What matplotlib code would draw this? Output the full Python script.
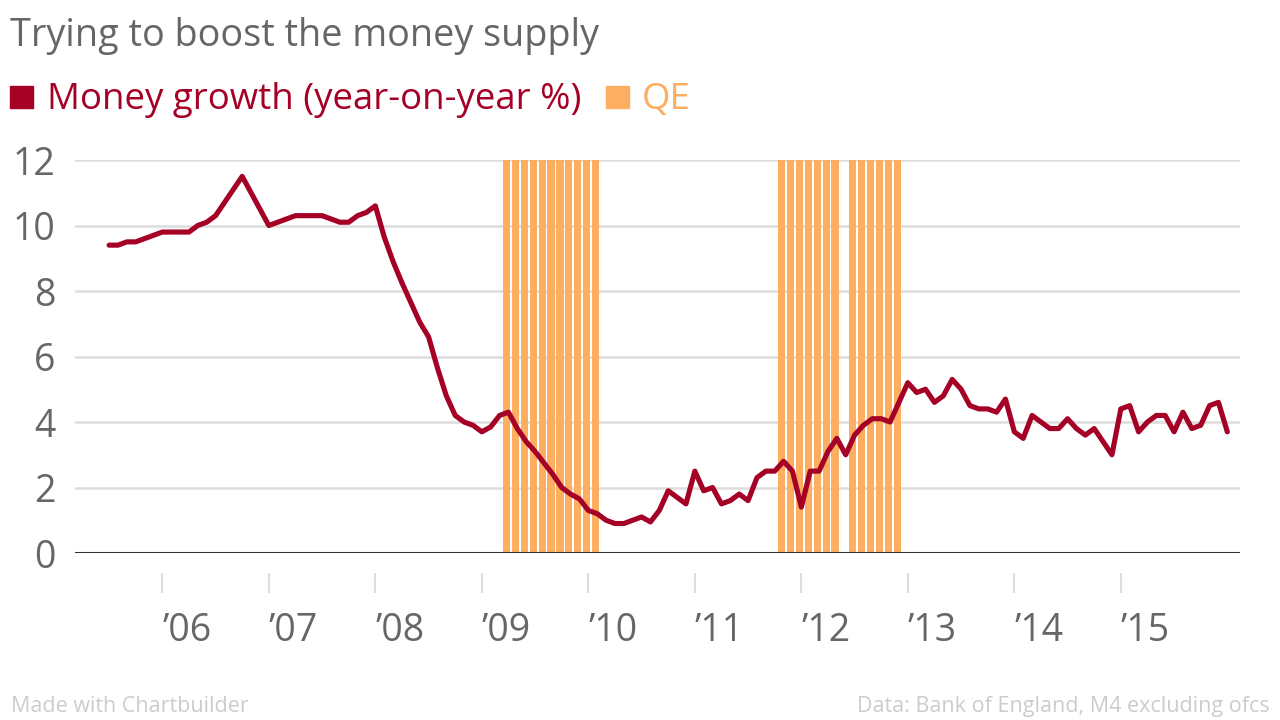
import matplotlib
matplotlib.use("Agg")
import matplotlib.pyplot as plt
from matplotlib.patches import Rectangle
import numpy as np

plt.rcParams['font.family'] = ['Open Sans', 'DejaVu Sans']

# monthly money growth, Jul 2005 .. Jan 2016 (year-on-year %)
start_year, start_month = 2005, 7
money_growth = [
    9.4, 9.4, 9.5, 9.5, 9.6, 9.7, 9.8, 9.8, 9.8, 9.8,
    10.0, 10.1, 10.3, 10.7, 11.1, 11.5, 11.0, 10.5, 10.0, 10.1,
    10.2, 10.3, 10.3, 10.3, 10.3, 10.2, 10.1, 10.1, 10.3, 10.4,
    10.6, 9.65, 8.9, 8.25, 7.65, 7.05, 6.6, 5.65, 4.8, 4.2,
    4.0, 3.9, 3.7, 3.85, 4.2, 4.3, 3.8, 3.4, 3.1, 2.75,
    2.4, 2.0, 1.8, 1.65, 1.3, 1.2, 1.0, 0.9, 0.9, 1.0,
    1.1, 0.95, 1.3, 1.9, 1.7, 1.5, 2.5, 1.9, 2.0, 1.5,
    1.6, 1.8, 1.6, 2.3, 2.5, 2.5, 2.8, 2.5, 1.4, 2.5,
    2.5, 3.1, 3.5, 3.0, 3.6, 3.9, 4.1, 4.1, 4.0, 4.6,
    5.2, 4.9, 5.0, 4.6, 4.8, 5.3, 5.0, 4.5, 4.4, 4.4,
    4.3, 4.7, 3.7, 3.5, 4.2, 4.0, 3.8, 3.8, 4.1, 3.8,
    3.6, 3.8, 3.4, 3.0, 4.4, 4.5, 3.7, 4.0, 4.2, 4.2,
    3.7, 4.3, 3.8, 3.9, 4.5, 4.6, 3.7,
]

# months with QE purchases (year, month)
qe_months = [(2009, m) for m in range(3, 13)] + [(2010, 1)] \
    + [(2011, 10), (2011, 11), (2011, 12), (2012, 1), (2012, 2), (2012, 3), (2012, 4)] \
    + [(2012, m) for m in range(6, 12)]
qe_level = 12

years = list(range(2006, 2016))
year_labels = ["\u2019%02d" % (y % 100) for y in years]
y_ticks = [0, 2, 4, 6, 8, 10, 12]

red = '#a50026'
orange = '#fdae61'
grey = '#666666'

# month positions as fractional years
months_idx = np.arange(len(money_growth)) + (start_month - 1)
x_line = start_year + months_idx / 12.0
x_qe = np.array([y + (m - 1) / 12.0 for y, m in qe_months])

fig = plt.figure(figsize=(12.8, 7.2), dpi=100)
ax = fig.add_axes([75 / 1280, 167 / 720, 1165 / 1280, 393 / 720])

ax.bar(x_qe + 0.39 / 12, [qe_level] * len(x_qe), width=0.82 / 12, align='edge',
       color=orange, zorder=2, linewidth=0)
ax.plot(x_line, money_growth, color=red, lw=3.7, zorder=4,
        solid_joinstyle='round', solid_capstyle='round')
ax.axhline(0, color='#333333', lw=2.2, zorder=3)

ax.set_xlim(2005.180, 2016.119)
ax.set_ylim(0, 12)

for s in ax.spines.values():
    s.set_visible(False)
ax.spines['bottom'].set_position(('outward', 14.4))

ax.set_yticks(y_ticks)
ax.set_yticklabels([str(v) for v in y_ticks])
ax.yaxis.grid(True, color='#dddddd', lw=1.8)
ax.set_axisbelow(True)
ax.tick_params(axis='y', length=0, pad=14, labelsize=27, labelcolor=grey)

ax.set_xticks(years)
ax.set_xticklabels(year_labels, ha='left')
ax.tick_params(axis='x', direction='out', length=14.4, width=1.5, color='#dddddd',
               pad=14, labelsize=27, labelcolor=grey)

fig.text(10 / 1280, 1 - 46 / 720, "Trying to boost the money supply", fontsize=27.2,
         color=grey, va='baseline', ha='left')

# legend
fig.patches.append(Rectangle((10 / 1280, 1 - 108 / 720), 23 / 1280, 22 / 720,
                             transform=fig.transFigure, color=red))
fig.text(47 / 1280, 1 - 109 / 720, "Money growth (year-on-year %)", fontsize=26.4,
         color=red, va='baseline', ha='left')
fig.patches.append(Rectangle((606 / 1280, 1 - 108 / 720), 23 / 1280, 22 / 720,
                             transform=fig.transFigure, color=orange))
fig.text(642 / 1280, 1 - 109 / 720, "QE", fontsize=26.4,
         color=orange, va='baseline', ha='left')

fig.text(11 / 1280, 1 - 712 / 720, "Made with Chartbuilder", fontsize=15.5,
         color='#cccccc', va='baseline', ha='left')
fig.text(1270 / 1280, 1 - 712 / 720, "Data: Bank of England, M4 excluding ofcs", fontsize=15.5,
         color='#cccccc', va='baseline', ha='right')

fig.savefig("out.png", dpi=100, facecolor='white')
